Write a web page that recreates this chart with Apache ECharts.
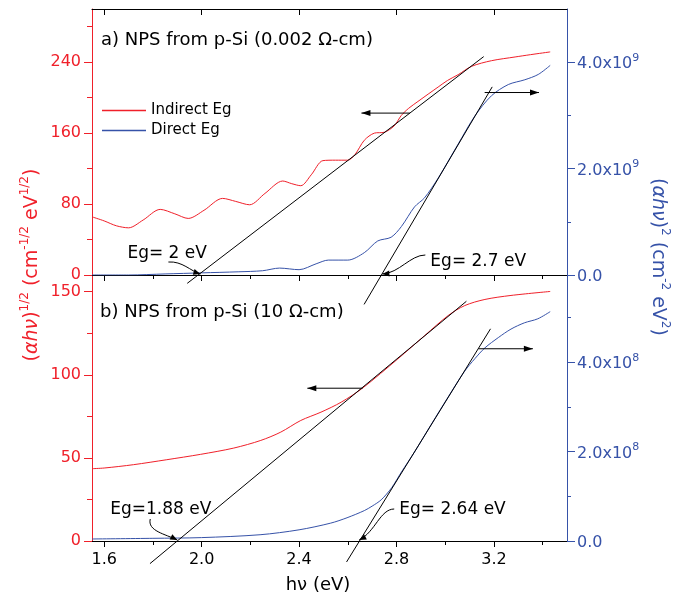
<!DOCTYPE html>
<html><head><meta charset="utf-8">
<script src="https://cdn.jsdelivr.net/npm/echarts@6/dist/echarts.min.js"></script>
<style>html,body{margin:0;padding:0;background:#fff}#c{width:673px;height:596px}</style>
</head><body><div id="c"></div>
<script>
const FONT = 'DejaVu Sans';
const RED = '#f0202a';
const BLUE = '#3652a8';

// ---- shared x axis (photon energy, eV) ----
const xMin = 1.55, xMax = 3.5;
const xMajorTicks = [1.6, 2.0, 2.4, 2.8, 3.2];
const xMinorTicks = [1.8, 2.2, 2.6, 3.0, 3.4];

// ---- panel a) 0.002 ohm-cm ----
const aIndirectX = [1.55, 1.60, 1.65, 1.70, 1.76, 1.83, 1.89, 1.945, 2.01, 2.086, 2.14, 2.197, 2.26, 2.333, 2.37, 2.407, 2.45, 2.498, 2.55, 2.60, 2.63, 2.668, 2.709, 2.75, 2.79, 2.82, 2.85, 2.888, 2.93, 2.971, 3.01, 3.053, 3.108, 3.19, 3.287, 3.35, 3.431];
const aIndirectY = [65.6, 61, 55.5, 53.2, 62, 74, 69, 63.8, 73, 86.4, 83, 79.2, 92, 106, 103, 100.7, 113, 129, 129.5, 129.5, 136, 152, 160, 161, 168, 180, 188, 195.7, 204, 212, 219.5, 225.9, 235.3, 241.7, 245.9, 248.5, 251.6];
const aDirectX = [1.55, 1.70, 1.85, 2.0, 2.15, 2.25, 2.32, 2.40, 2.47, 2.52, 2.60, 2.668, 2.723, 2.778, 2.82, 2.874, 2.915, 2.971, 3.053, 3.122, 3.19, 3.259, 3.327, 3.382, 3.431];
const aDirectY = [0, 0, 0.02e9, 0.04e9, 0.06e9, 0.08e9, 0.13e9, 0.10e9, 0.21e9, 0.28e9, 0.28e9, 0.42e9, 0.64e9, 0.71e9, 0.91e9, 1.28e9, 1.45e9, 1.82e9, 2.46e9, 2.99e9, 3.37e9, 3.58e9, 3.67e9, 3.77e9, 3.94e9];
const aIndirectFitX = [1.941, 3.158];
const aIndirectFitY = [-9.4, 246.3];
const aDirectFitX = [2.667, 3.193];
const aDirectFitY = [-0.553e9, 3.536e9];
const aLeftMax = 300, aLeftMajor = [0, 80, 160, 240], aLeftMinor = [40, 120, 200, 280];
const aRightMax = 5e9, aRightMajor = [0, 2e9, 4e9], aRightMinor = [1e9, 3e9];

// ---- panel b) 10 ohm-cm ----
const bIndirectX = [1.55, 1.60, 1.72, 1.857, 1.995, 2.132, 2.243, 2.325, 2.407, 2.49, 2.573, 2.661, 2.806, 2.916, 3.012, 3.08, 3.163, 3.27, 3.431];
const bIndirectY = [43.5, 43.9, 45.9, 48.9, 52.1, 55.9, 60.5, 65.5, 72.5, 77.5, 83.5, 92, 109.6, 123.6, 135.6, 141.6, 145.3, 147.7, 150.1];
const bDirectX = [1.55, 1.8, 2.0, 2.24, 2.4, 2.53, 2.597, 2.668, 2.70, 2.737, 2.78, 2.82, 2.874, 2.943, 3.012, 3.08, 3.122, 3.163, 3.218, 3.27, 3.325, 3.38, 3.431];
const bDirectY = [0.045e8, 0.06e8, 0.076e8, 0.14e8, 0.25e8, 0.40e8, 0.52e8, 0.68e8, 0.78e8, 0.92e8, 1.19e8, 1.54e8, 1.99e8, 2.61e8, 3.22e8, 3.80e8, 4.08e8, 4.32e8, 4.55e8, 4.74e8, 4.88e8, 4.97e8, 5.13e8];
const bIndirectFitX = [1.788, 3.087];
const bIndirectFitY = [-13.6, 144.2];
const bDirectFitX = [2.595, 3.186];
const bDirectFitY = [-0.469e8, 4.746e8];
const bLeftMax = 160, bLeftMajor = [0, 50, 100, 150], bLeftMinor = [25, 75, 125];
const bRightMax = 5.95e8, bRightMajor = [0, 2e8, 4e8], bRightMinor = [1e8, 3e8, 5e8];

// ---- annotations ----
const egLabels = ['Eg= 2 eV', 'Eg= 2.7 eV', 'Eg=1.88 eV', 'Eg= 2.64 eV'];
const egTipX = [1.995, 2.742, 1.9, 2.647];
// horizontal arrows: [xStart, xEnd, y] (y on the axis of the curve they point to)
const arrowA = [[2.855, 2.656, 182.6], [3.162, 3.385, 3.43e9]];
const arrowB = [[2.661, 2.434, 91.9], [3.137, 3.36, 4.30e8]];

const zip = (xs, ys) => xs.map((x, i) => [x, ys[i]]);

const chart = echarts.init(document.getElementById('c'), null, {renderer: 'canvas'});

function xAx(grid, position, opts) {
  return Object.assign({
    type: 'value', gridIndex: grid, position, min: xMin, max: xMax,
    axisLine: {show: true, onZero: false, lineStyle: {color: '#000', width: 1}},
    axisTick: {show: false}, axisLabel: {show: false}, splitLine: {show: false}
  }, opts || {});
}
function yAx(grid, position, max, color, opts) {
  return Object.assign({
    type: 'value', gridIndex: grid, position, min: 0, max,
    axisLine: {show: true, onZero: false, lineStyle: {color, width: 1}},
    axisTick: {show: false}, axisLabel: {show: false}, splitLine: {show: false}
  }, opts || {});
}
const rightFmt = (exp) => (v) => v === 0 ? '{b|0.0}' : '{b|' + (v / Math.pow(10, exp)).toFixed(1) + 'x10}{s|' + exp + '}';
const rightRich = {
  b: {fontFamily: FONT, fontSize: 16, color: BLUE, lineHeight: 20, verticalAlign: 'bottom'},
  s: {fontFamily: FONT, fontSize: 11, color: BLUE, lineHeight: 12, verticalAlign: 'top'}
};

const option = {
  animation: false,
  backgroundColor: '#fff',
  textStyle: {fontFamily: FONT},
  grid: [
    {left: 92, right: 106, top: 9, height: 266},
    {left: 92, right: 106, top: 275, height: 266}
  ],
  xAxis: [
    xAx(0, 'bottom'),
    xAx(0, 'top', {axisTick: {show: true, inside: true, length: 6, customValues: xMajorTicks, lineStyle: {color: '#000'}}}),
    xAx(0, 'top', {axisLine: {show: false}, axisTick: {show: true, inside: true, length: 4, customValues: xMinorTicks, lineStyle: {color: '#000'}}}),
    xAx(1, 'bottom', {
      axisTick: {show: true, inside: false, length: 6, customValues: xMajorTicks, lineStyle: {color: '#000'}},
      axisLabel: {show: true, customValues: xMajorTicks, margin: 11, fontSize: 16, color: '#000', fontFamily: FONT, formatter: v => v.toFixed(1)}
    }),
    xAx(1, 'bottom', {axisLine: {show: false}, axisTick: {show: true, inside: false, length: 4, customValues: xMinorTicks, lineStyle: {color: '#000'}}}),
    xAx(1, 'top', {axisTick: {show: true, inside: true, length: 6, customValues: xMajorTicks, lineStyle: {color: '#000'}}}),
    xAx(1, 'top', {axisLine: {show: false}, axisTick: {show: true, inside: true, length: 4, customValues: xMinorTicks, lineStyle: {color: '#000'}}})
  ],
  yAxis: [
    yAx(0, 'left', aLeftMax, RED, {
      axisTick: {show: true, length: 8, customValues: aLeftMajor, lineStyle: {color: RED}},
      axisLabel: {show: true, customValues: aLeftMajor, margin: 11, fontSize: 16, color: RED, fontFamily: FONT}
    }),
    yAx(0, 'left', aLeftMax, RED, {axisLine: {show: false}, axisTick: {show: true, length: 5, customValues: aLeftMinor, lineStyle: {color: RED}}}),
    yAx(0, 'right', aRightMax, BLUE, {
      axisTick: {show: true, length: 8, customValues: aRightMajor, lineStyle: {color: BLUE}},
      axisLabel: {show: true, customValues: aRightMajor, margin: 10, formatter: rightFmt(9), rich: rightRich}
    }),
    yAx(0, 'right', aRightMax, BLUE, {axisLine: {show: false}, axisTick: {show: true, length: 4, customValues: aRightMinor, lineStyle: {color: BLUE}}}),
    yAx(1, 'left', bLeftMax, RED, {
      axisTick: {show: true, length: 8, customValues: bLeftMajor, lineStyle: {color: RED}},
      axisLabel: {show: true, customValues: bLeftMajor, margin: 11, fontSize: 16, color: RED, fontFamily: FONT}
    }),
    yAx(1, 'left', bLeftMax, RED, {axisLine: {show: false}, axisTick: {show: true, length: 5, customValues: bLeftMinor, lineStyle: {color: RED}}}),
    yAx(1, 'right', bRightMax, BLUE, {
      axisTick: {show: true, length: 8, customValues: bRightMajor, lineStyle: {color: BLUE}},
      axisLabel: {show: true, customValues: bRightMajor, margin: 10, formatter: rightFmt(8), rich: rightRich}
    }),
    yAx(1, 'right', bRightMax, BLUE, {axisLine: {show: false}, axisTick: {show: true, length: 4, customValues: bRightMinor, lineStyle: {color: BLUE}}})
  ],
  legend: {
    data: ['Indirect Eg', 'Direct Eg'],
    orient: 'vertical', left: 97, top: 98,
    icon: 'rect', itemWidth: 44, itemHeight: 1.5, itemGap: 5,
    textStyle: {fontFamily: FONT, fontSize: 15, color: '#000', padding: [0, 0, 0, 0]},
    selectedMode: false
  },
  series: [
    {name: 'Indirect Eg', type: 'line', xAxisIndex: 0, yAxisIndex: 0, data: zip(aIndirectX, aIndirectY),
      showSymbol: false, smooth: 0.3, lineStyle: {color: RED, width: 1}, itemStyle: {color: RED}, z: 3},
    {name: 'Direct Eg', type: 'line', xAxisIndex: 0, yAxisIndex: 2, data: zip(aDirectX, aDirectY),
      showSymbol: false, smooth: 0.3, lineStyle: {color: BLUE, width: 1}, itemStyle: {color: BLUE}, z: 3},
    {name: 'Indirect Eg', type: 'line', xAxisIndex: 3, yAxisIndex: 4, data: zip(bIndirectX, bIndirectY),
      showSymbol: false, smooth: 0.3, lineStyle: {color: RED, width: 1}, itemStyle: {color: RED}, z: 3},
    {name: 'Direct Eg', type: 'line', xAxisIndex: 3, yAxisIndex: 6, data: zip(bDirectX, bDirectY),
      showSymbol: false, smooth: 0.3, lineStyle: {color: BLUE, width: 1}, itemStyle: {color: BLUE}, z: 3},
    {name: 'fitA1', type: 'line', xAxisIndex: 0, yAxisIndex: 0, data: zip(aIndirectFitX, aIndirectFitY), clip: false,
      showSymbol: false, silent: true, lineStyle: {color: '#000', width: 1}, z: 4},
    {name: 'fitA2', type: 'line', xAxisIndex: 0, yAxisIndex: 2, data: zip(aDirectFitX, aDirectFitY), clip: false,
      showSymbol: false, silent: true, lineStyle: {color: '#000', width: 1}, z: 4},
    {name: 'fitB1', type: 'line', xAxisIndex: 3, yAxisIndex: 4, data: zip(bIndirectFitX, bIndirectFitY), clip: false,
      showSymbol: false, silent: true, lineStyle: {color: '#000', width: 1}, z: 4},
    {name: 'fitB2', type: 'line', xAxisIndex: 3, yAxisIndex: 6, data: zip(bDirectFitX, bDirectFitY), clip: false,
      showSymbol: false, silent: true, lineStyle: {color: '#000', width: 1}, z: 4}
  ]
};
chart.setOption(option);

// ---------- annotations (positions derived from data coords) ----------
const P = (si, x, y) => chart.convertToPixel({seriesIndex: si}, [x, y]);
const add = (p, d) => [p[0] + d[0], p[1] + d[1]];
function head(tip, from, len, half) {
  const ang = Math.atan2(tip[1] - from[1], tip[0] - from[0]);
  const bx = tip[0] - len * Math.cos(ang), by = tip[1] - len * Math.sin(ang);
  const nx = -Math.sin(ang) * half, ny = Math.cos(ang) * half;
  return {type: 'polygon', silent: true, z: 100, shape: {points: [tip, [bx + nx, by + ny], [bx - nx, by - ny]]}, style: {fill: '#000'}};
}
const g = [];
function hArrow(si, a) {
  const s = P(si, a[0], a[2]), e = P(si, a[1], a[2]);
  e[1] = s[1];
  g.push({type: 'line', silent: true, z: 100, shape: {x1: s[0], y1: s[1], x2: e[0], y2: e[1]}, style: {stroke: '#000', lineWidth: 1}});
  g.push(head(e, s, 9, 3));
}
hArrow(0, arrowA[0]); hArrow(1, arrowA[1]); hArrow(2, arrowB[0]); hArrow(3, arrowB[1]);

// curved Eg arrows: [seriesIndex, start offset, cp1 offset, cp2 offset, text offset (left, centerY)]
const egGeom = [
  [0, [-32, -12], [-18, -13], [-10, -3], [-73, -20]],
  [1, [43, -19], [28, -19], [17, -1], [48, -12]],
  [2, [-27, -21], [-30, -9], [-12, -6], [-67, -30]],
  [3, [35, -31], [21, -31], [16, -8], [40, -30]]
];
egGeom.forEach((gm, i) => {
  const tip = P(gm[0], egTipX[i], 0);
  tip[1] -= 1;
  const s = add(tip, gm[1]), c1 = add(tip, gm[2]), c2 = add(tip, gm[3]);
  g.push({type: 'bezierCurve', silent: true, z: 100,
    shape: {x1: s[0], y1: s[1], cpx1: c1[0], cpy1: c1[1], cpx2: c2[0], cpy2: c2[1], x2: tip[0], y2: tip[1]},
    style: {stroke: '#000', lineWidth: 1, fill: null}});
  g.push(head(tip, c2, 7, 3));
  const t = add(tip, gm[4]);
  g.push({type: 'text', silent: true, z: 100, x: t[0], y: t[1],
    style: {text: egLabels[i], fontFamily: FONT, fontSize: 17, fill: '#000', align: 'left', verticalAlign: 'middle'}});
});

// panel titles
g.push({type: 'text', silent: true, left: 101, top: 31,
  style: {text: 'a) NPS from p-Si (0.002 Ω-cm)', fontFamily: FONT, fontSize: 18, fill: '#000'}});
g.push({type: 'text', silent: true, left: 100, top: 303,
  style: {text: 'b) NPS from p-Si (10 Ω-cm)', fontFamily: FONT, fontSize: 18, fill: '#000'}});

// x axis name
g.push({type: 'text', silent: true, x: 318, y: 585,
  style: {text: 'hν (eV)', fontFamily: FONT, fontSize: 18, fill: '#000', align: 'center', verticalAlign: 'middle'}});

// y axis titles (rotated, rich text with superscripts)
const titleRich = (color) => ({
  i: {fontFamily: FONT, fontSize: 19, fontStyle: 'italic', fill: color, color, lineHeight: 23, verticalAlign: 'bottom'},
  b: {fontFamily: FONT, fontSize: 19, fill: color, color, lineHeight: 23, verticalAlign: 'bottom'},
  s: {fontFamily: FONT, fontSize: 12, fill: color, color, lineHeight: 13, verticalAlign: 'top'}
});
g.push({type: 'text', silent: true, x: 30, y: 265, rotation: Math.PI / 2,
  style: {text: '{b|(}{i|αhν}{b|)}{s|1/2}{b| (cm}{s|-1/2}{b| eV}{s|1/2}{b|)}', rich: titleRich(RED),
    fill: RED, align: 'center', verticalAlign: 'middle'}});
g.push({type: 'text', silent: true, x: 660, y: 257, rotation: -Math.PI / 2,
  style: {text: '{b|(}{i|αhν}{b|)}{s|2}{b| (cm}{s|-2}{b| eV}{s|2}{b|)}', rich: titleRich(BLUE),
    fill: BLUE, align: 'center', verticalAlign: 'middle'}});

chart.setOption({graphic: g});
</script>
</body></html>
